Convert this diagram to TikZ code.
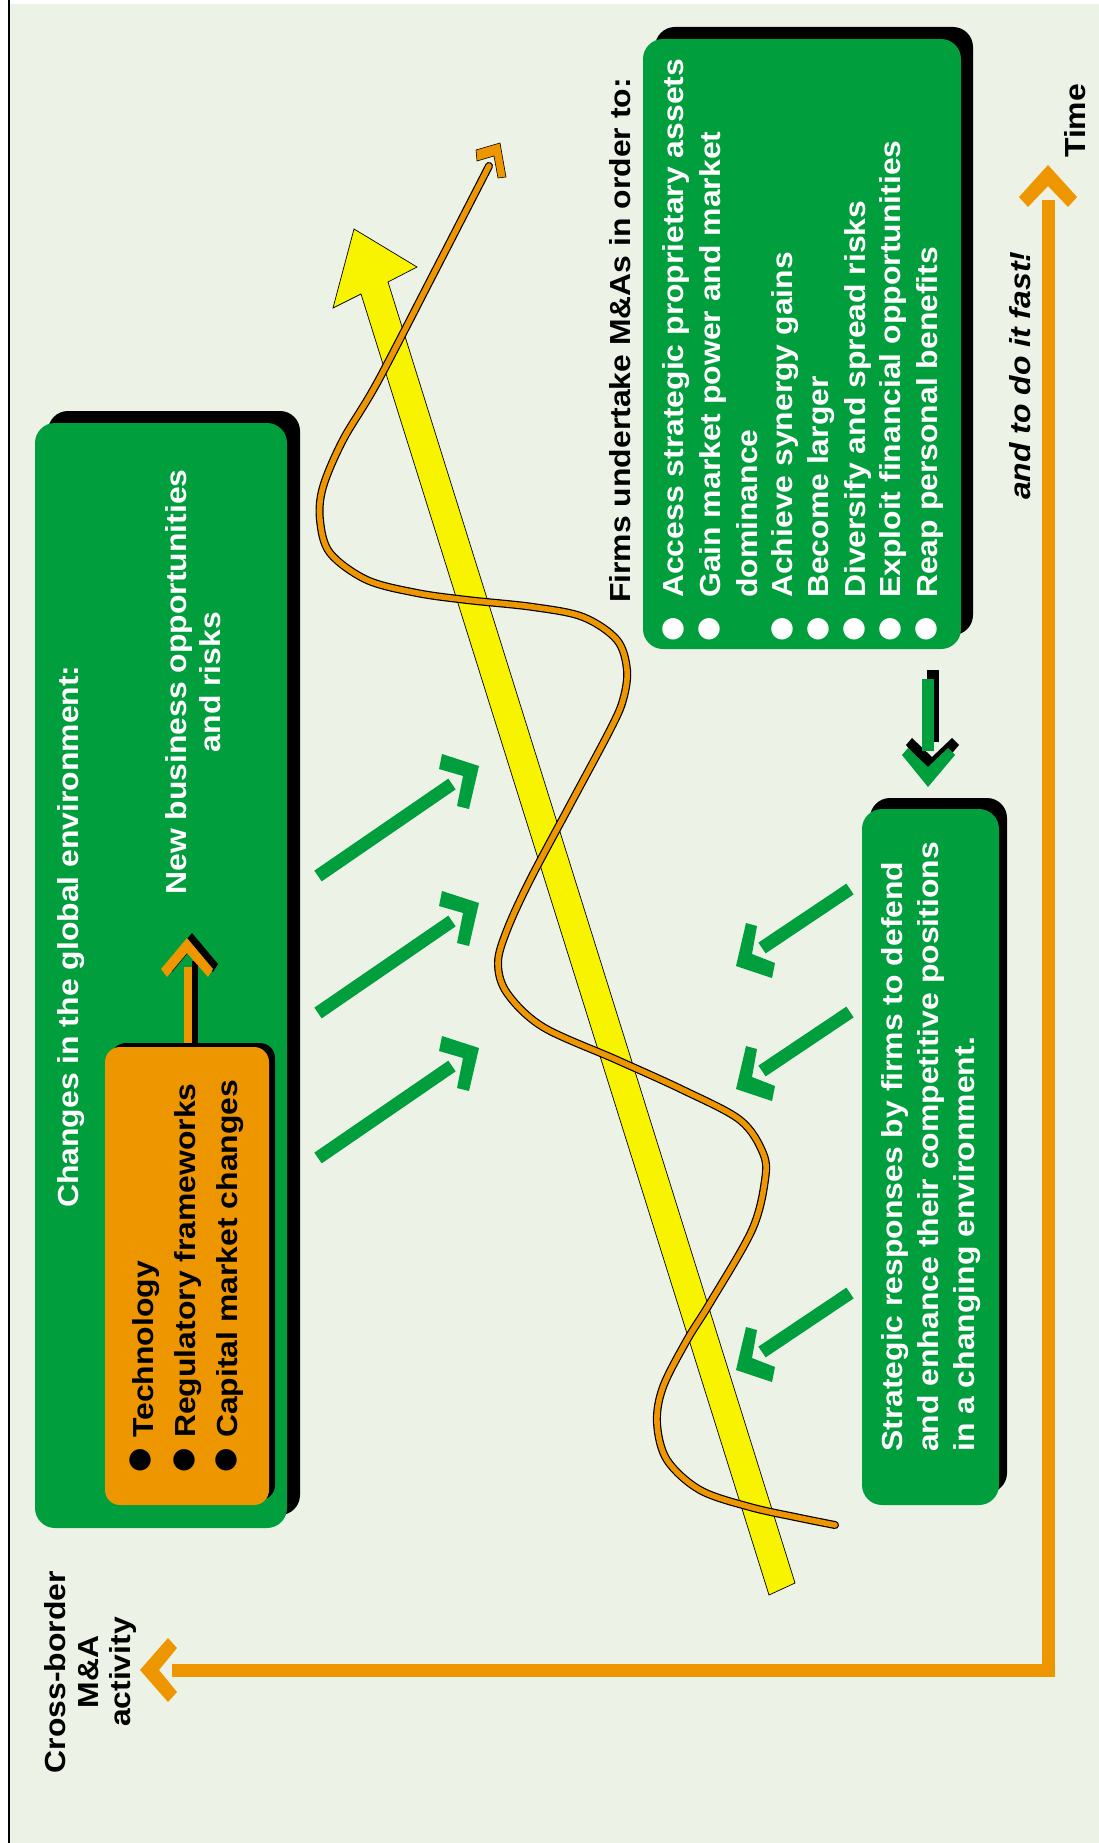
\documentclass[tikz,border=0pt]{standalone}
\usepackage{fontspec}
\newfontfamily\hf{Liberation Sans}[FakeStretch=1.1]
\newfontfamily\symf{DejaVu Sans}
\definecolor{bgc}{RGB}{236,243,230}
\definecolor{grn}{RGB}{0,158,60}
\definecolor{org}{RGB}{238,150,0}
\definecolor{ylw}{RGB}{248,244,0}
\begin{document}
\begin{tikzpicture}[x=1pt,y=-1pt,
  txt/.style={inner sep=0pt, rotate=90, font=\hf\bfseries\fontsize{29}{36}\selectfont},
  ln/.style={txt, anchor=base west},
  cn/.style={txt, anchor=base},
  wht/.style={text=white},
  bul/.style={inner sep=0pt, anchor=center, font=\symf\fontsize{28}{28}\selectfont},
  shadowbox/.style={fill=black, rounded corners=20pt},
  greenbox/.style={fill=grn, rounded corners=20pt},
  garrow/.style={draw=grn, line width=13pt},
  gchev/.style={fill=grn},
]
\useasboundingbox (0,0) rectangle (1099,1843);
\fill[white] (0,0) rectangle (1099,1843);
\fill[bgc] (9,4) rectangle (1099,1843);
\draw[line width=1.6pt] (9,0) -- (9,1843);

% ---------- large green box ----------
\fill[shadowbox] (48,411) rectangle (300,1515);
\fill[greenbox] (35,423) rectangle (287,1528);
\node[ln, wht] (chg) at (78,1208) {Changes in the global environment:};
\node[cn, wht] (nb1) at (186,682) {New business opportunities};
\node[cn, wht] (nb2) at (220,682) {and risks};

% connector orange box -> new opportunities
\fill[black] (192,961) rectangle (198,1047);
\fill[org] (184,967) rectangle (192,1047);
\fill[black] (192,933) -- (218,964) -- (213,972) -- (192,948) -- (172,972) -- (166,964) -- cycle;
\fill[org] (187,938) -- (213,969) -- (208,977) -- (187,953) -- (167,977) -- (161,969) -- cycle;

% orange box
\fill[black, rounded corners=15pt] (111,1043) rectangle (275,1500);
\fill[org, rounded corners=15pt] (105,1047) rectangle (269,1505);
\node[bul] (b1) at (140,1460) {●};
\node[bul] (b2) at (184,1460) {●};
\node[bul] (b3) at (226,1460) {●};
\node[ln] (t1) at (153,1438) {Technology};
\node[ln] (t2) at (195,1438) {Regulatory frameworks};
\node[ln] (t3) at (237,1438) {Capital market changes};

% ---------- yellow arrow ----------
\draw[fill=ylw, line width=0.7pt, line join=miter]
  (769,1595) -- (361,294) -- (333,308) -- (354,229) -- (417,267) -- (388,282) -- (795,1583) -- cycle;

% ---------- orange wave ----------
\def\wave{(835,1525) (800,1518) (750,1507) (700,1490) (667,1460) (657,1423) (663,1387) (687,1340) (710,1303) (752,1230) (765,1180) (763,1153) (740,1120) (683,1090) (617,1060) (543,1027) (507,993) (498,963) (507,930) (530,880) (570,805) (610,730) (623,700) (627,670) (617,640) (583,617) (533,607) (467,600) (417,593) (367,580) (330,553) (320,520) (323,487) (343,440) (377,383) (433,275) (489,166)}
\draw[black, line width=8pt, line cap=round] plot[smooth, tension=0.55] coordinates {\wave};
\draw[org, line width=5.6pt, line cap=round] plot[smooth, tension=0.55] coordinates {\wave};
\draw[fill=org, line width=0.6pt] (476,150) -- (500,143) -- (506,177) -- (498,178) -- (494,156) -- (477,161) -- cycle;

% ---------- green up-right arrows ----------
\foreach \d in {0,137,282}{
  \draw[garrow] (318,876+\d) -- (452,784+\d);
  \fill[gchev] (442,754+\d) -- (479,766+\d) -- (469,809+\d) -- (457,806+\d) -- (463,776+\d) -- (439,769+\d) -- cycle;
}
% ---------- green down-left arrows ----------
\foreach \d in {-404,-281,0}{
  \draw[garrow] (850,1293+\d) -- (762,1352+\d);
  \fill[gchev] (746,1327+\d) -- (757,1330+\d) -- (752,1358+\d) -- (775,1367+\d) -- (772,1382+\d) -- (736,1370+\d) -- cycle;
}

% ---------- firms box ----------
\node[ln] (ft) at (630,603) {Firms undertake M\&As in order to:};
\fill[shadowbox] (655,27) rectangle (973,635);
\fill[greenbox] (643,39) rectangle (961,649);
\foreach \bx/\n in {673/1,709/2,782/3,818/4,854/5,890/6,926/7}{
  \node[bul, text=white] (fb\n) at (\bx,629) {●};
}
\node[ln, wht] (f1) at (683,598) {Access strategic proprietary assets};
\node[ln, wht] (f2) at (720,598) {Gain market power and market};
\node[ln, wht] (f3) at (757,598) {dominance};
\node[ln, wht] (f4) at (792,598) {Achieve synergy gains};
\node[ln, wht] (f5) at (828,598) {Become larger};
\node[ln, wht] (f6) at (865,598) {Diversify and spread risks};
\node[ln, wht] (f7) at (900,598) {Exploit financial opportunities};
\node[ln, wht] (f8) at (937,598) {Reap personal benefits};

% down arrow firms -> strategic
\fill[black] (927,670) rectangle (939,742);
\fill[black] (932,777) -- (906,745) -- (912,738) -- (932,757) -- (952,738) -- (959,745) -- cycle;
\fill[grn] (922,679) rectangle (934,751);
\fill[grn] (928,787) -- (902,755) -- (908,748) -- (928,767) -- (948,748) -- (955,755) -- cycle;

% ---------- strategic box ----------
\fill[shadowbox] (870,798) rectangle (1007,1493);
\fill[greenbox] (862,809) rectangle (999,1505);
\node[ln, wht] (s1) at (902,1452) {Strategic responses by firms to defend};
\node[ln, wht] (s2) at (938,1452) {and enhance their competitive positions};
\node[ln, wht] (s3) at (974,1452) {in a changing environment.};

% ---------- axes ----------
\draw[org, line width=13pt, line join=miter] (1048.5,200) -- (1048.5,1670) -- (172,1670);
\fill[org] (1048,165) -- (1077,197) -- (1068,207) -- (1048,186) -- (1028,207) -- (1019,197) -- cycle;
\fill[org] (140,1670) -- (168,1638) -- (177,1648) -- (159,1670) -- (177,1692) -- (168,1702) -- cycle;
\node[ln] (time) at (1085,158) {Time};
\node[ln, font=\hf\bfseries\itshape\fontsize{29}{36}\selectfont] (fast) at (1030,500) {and to do it fast!};
\node[cn] (cb1) at (65,1672) {Cross-border};
\node[cn] (cb2) at (98,1672) {M\&A};
\node[cn] (cb3) at (130,1672) {activity};
\end{tikzpicture}
\end{document}
